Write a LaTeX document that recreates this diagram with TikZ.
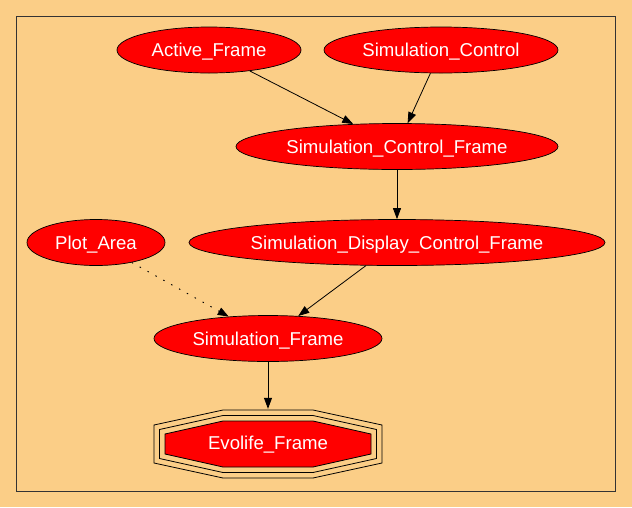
\documentclass[tikz,border=0pt]{standalone}
\usepackage{fontspec}
\setmainfont{Liberation Sans}
\usetikzlibrary{shapes.geometric,arrows.meta}
\definecolor{bgc}{RGB}{251,206,135}
\definecolor{nodered}{RGB}{255,0,0}
\begin{document}
\begin{tikzpicture}[x=1pt,y=-1pt,
  nd/.style={ellipse,draw=black,line width=0.7pt,fill=nodered,text=white,
    inner sep=0pt,minimum height=46pt,text height=13pt,text depth=0pt,
    font=\fontsize{18.6}{20}\selectfont},
  edge/.style={draw=black,line width=0.8pt,-{Triangle[length=11pt,width=8pt]}},
  dotedge/.style={edge,dash pattern=on 1.5pt off 7.5pt,line width=0.9pt},
  octo/.style={draw=black,line width=0.8pt}]
\useasboundingbox (0,0) rectangle (632,507);
\fill[bgc] (0,0) rectangle (632,507);
\draw[line width=0.9pt,draw=black!80] (16,16) rectangle (615,491);

\node[nd,minimum width=184pt,inner xsep=-20pt] (af) at (209,50) {Active\_Frame};
\node[nd,minimum width=234pt,inner xsep=-20pt] (sc) at (441,50) {Simulation\_Control};
\node[nd,minimum width=322pt,inner xsep=-20pt] (scf) at (397,146.5) {Simulation\_Control\_Frame};
\node[nd,minimum width=138pt,inner xsep=-20pt] (pa) at (96,242.5) {Plot\_Area};
\node[nd,minimum width=416pt,inner xsep=-20pt] (sdcf) at (397,242.5) {Simulation\_Display\_Control\_Frame};
\node[nd,minimum width=228pt,inner xsep=-20pt] (sf) at (268,338.5) {Simulation\_Frame};

% Evolife_Frame: triple octagon
\begin{scope}[shift={(268,444)}]
  \draw[octo] (-45,-34) -- (45,-34) -- (114,-19) -- (114,19) -- (45,34) -- (-45,34) -- (-114,19) -- (-114,-19) -- cycle;
  \draw[octo] (-45,-28.5) -- (45,-28.5) -- (108.5,-14.5) -- (108.5,14.5) -- (45,28.5) -- (-45,28.5) -- (-108.5,14.5) -- (-108.5,-14.5) -- cycle;
  \draw[octo,fill=nodered] (-45,-23) -- (45,-23) -- (103,-10) -- (103,10) -- (45,23) -- (-45,23) -- (-103,10) -- (-103,-10) -- cycle;
\end{scope}
\node[rectangle,inner sep=0pt,minimum width=228pt,minimum height=68pt,text=white,
  text height=13pt,text depth=0pt,
  font=\fontsize{18.6}{20}\selectfont] (ef) at (268,443) {Evolife\_Frame};

\draw[edge] (af) -- (scf);
\draw[edge] (sc) -- (scf);
\draw[edge] (scf) -- (sdcf);
\draw[edge] (sdcf) -- (sf);
\draw[dotedge] (pa) -- (sf);
\draw[edge] (sf) -- (ef);
\end{tikzpicture}
\end{document}
